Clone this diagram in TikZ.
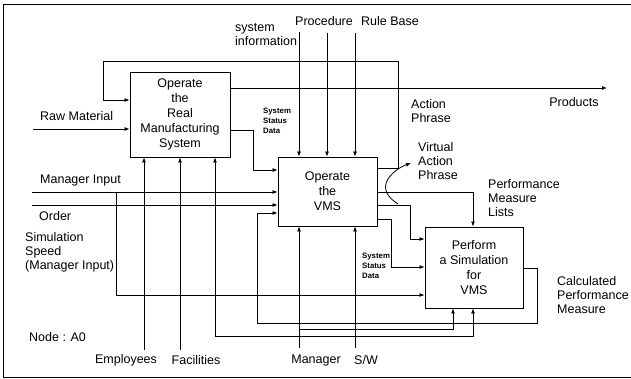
\documentclass[tikz,border=0pt]{standalone}
\usepackage{fontspec}
\setmainfont{Liberation Sans}
\usetikzlibrary{arrows.meta}
\begin{document}
\begin{tikzpicture}[x=1pt,y=-1pt,
  line/.style={line width=0.8pt},
  arr/.style={line width=0.8pt,-{Latex[length=5pt,width=4pt]}},
  box/.style={draw,line width=0.9pt,inner sep=0pt,align=center,font=\fontsize{12.5}{15}\selectfont},
  lbl/.style={inner sep=0pt,align=left,font=\fontsize{12.5}{14}\selectfont},
  small/.style={inner sep=0pt,align=left,font=\fontsize{7.8}{10}\selectfont\bfseries}]
\useasboundingbox (0,0) rectangle (631,379);
\draw[line width=1pt] (631,5) -- (3,5) -- (3,377) -- (631,377);
% boxes
\node[box,minimum width=100pt,minimum height=85pt] (b1) at (180,114.5) {Operate\\the\\Real\\Manufacturing\\System};
\node[box,minimum width=99pt,minimum height=69pt] (b2) at (327.5,191.5) {Operate\\the\\VMS};
\node[box,minimum width=98pt,minimum height=81pt] (b3) at (474,267.5) {Perform\\a Simulation\\for\\VMS};
% free ends
\coordinate (raw) at (33,129);
\coordinate (mi) at (32,192);
\coordinate (ord) at (32,205);
\coordinate (ss) at (116,192);
\coordinate (ssb) at (116,295);
\coordinate (emp) at (144,350);
\coordinate (fac) at (180,350);
\coordinate (mgr) at (299,348);
\coordinate (sw) at (355,348);
\coordinate (si) at (299,32);
\coordinate (proc) at (327,33);
\coordinate (rb) at (355,33);
\coordinate (prod) at (607,88);
\coordinate (mgrb) at (299,329);
\coordinate (swb) at (355,336);
% box 1 connectors
\draw[arr] (raw) -- (b1.west |- raw);
\draw[arr] (b2.east |- 0,168) -- (398,168) -- (398,61) -- (103,61) -- (103,100) -- (b1.west |- 0,100);
\draw[arr] (b1.east |- prod) -- (prod);
\draw[arr] (b1.east |- 0,130) -- (253,130) -- (253,170) -- (b2.west |- 0,170);
\draw[arr] (emp) -- (b1.south -| emp);
\draw[arr] (fac) -- (b1.south -| fac);
% inputs to box 2
\draw[arr] (mi) -- (b2.west |- mi);
\draw[arr] (ord) -- (b2.west |- ord);
\draw[arr] (ss) -- (ssb) -- (b3.west |- ssb);
% controls
\draw[arr] (si) -- (b2.north -| si);
\draw[arr] (proc) -- (b2.north -| proc);
\draw[arr] (rb) -- (b2.north -| rb);
% mechanisms
\draw[arr] (mgr) -- (b2.south -| mgr);
\draw[arr] (sw) -- (b2.south -| sw);
\draw[arr] (mgrb) -- (453,329) -- (b3.south -| 453,0);
\draw[arr] (swb) -- (473,336) -- (b3.south -| 473,0);
\draw[arr] (swb) -- (215,336) -- (b1.south -| 215,0);
% calculated performance measure loop
\draw[arr] (b3.east |- 0,268) -- (537,268) -- (537,323) -- (257,323) -- (257,213) -- (b2.west |- 0,213);
% box 2 outputs
\draw[arr] (b2.east |- 0,192) -- (473,192) -- (b3.north -| 473,0);
\draw[arr] (b2.east |- 0,205) -- (410,205) -- (410,239) -- (b3.west |- 0,239);
\draw[arr] (b2.east |- 0,219) -- (391,219) -- (391,267) -- (b3.west |- 0,267);
% squiggle
\coordinate (sq) at (398,204);
\draw[arr] (sq) .. controls (390,199) and (381,190) .. (388,179) .. controls (394,170) and (403,166) .. (411,163);
% labels
\node[lbl,anchor=west] at (235,35) {system\\information};
\node[lbl] at (324,21) {Procedure};
\node[lbl] at (390,21) {Rule Base};
\node[lbl,anchor=west] at (40,116) {Raw Material};
\node[lbl,anchor=west] at (40,180) {Manager Input};
\node[lbl,anchor=west] at (39,216) {Order};
\node[lbl,anchor=west] at (25,252) {Simulation\\Speed\\(Manager Input)};
\node[lbl,anchor=west] at (29,337) {Node : A0};
\node[lbl] at (126,360) {Employees};
\node[lbl] at (196,360) {Facilities};
\node[lbl] at (316,360) {Manager};
\node[lbl] at (366,360) {S/W};
\node[lbl] at (574,102) {Products};
\node[lbl,anchor=west] at (411,111.5) {Action\\Phrase};
\node[lbl,anchor=west] at (418,161) {Virtual\\Action\\Phrase};
\node[lbl,anchor=west] at (488,198) {Performance\\Measure\\Lists};
\node[lbl,anchor=west] at (557,295) {Calculated\\Performance\\Measure};
\node[small,anchor=west] at (263,121) {System\\Status\\Data};
\node[small,anchor=west] at (362,266) {System\\Status\\Data};
\end{tikzpicture}
\end{document}
